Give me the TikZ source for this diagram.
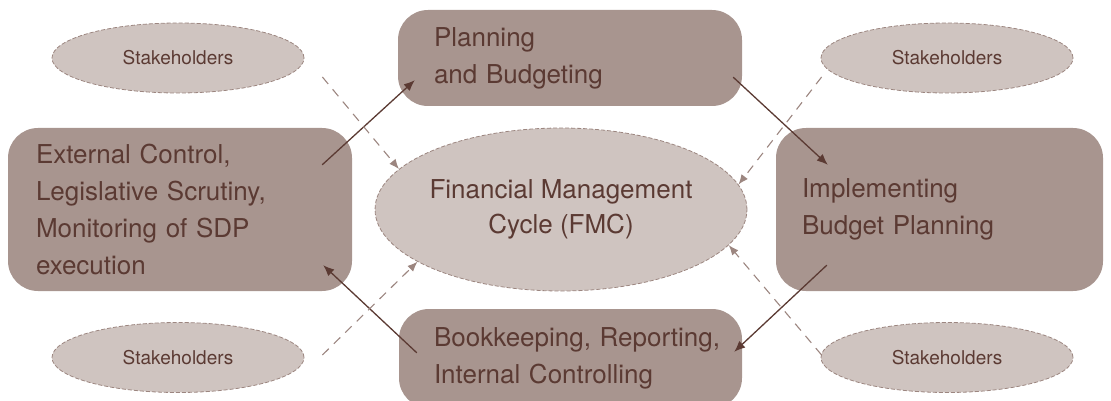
\documentclass[tikz,border=0pt]{standalone}
\usepackage{fontspec}
\setmainfont{TeX Gyre Heros}
\usetikzlibrary{shapes, arrows.meta, positioning, calc}
\definecolor{boxfill}{HTML}{A8958F}
\definecolor{ovalfill}{HTML}{CFC4C0}
\definecolor{inkbrown}{HTML}{5B3A33}
\definecolor{dashgrey}{HTML}{9C8680}
\tikzstyle{stage} = [rectangle, rounded corners=30pt, fill=boxfill, text=inkbrown, align=left, inner ysep=0pt, font=\fontsize{26}{37}\selectfont]
\tikzstyle{stake} = [ellipse, fill=ovalfill, draw=dashgrey, dash pattern=on 4pt off 2pt, line width=0.8pt, text=inkbrown, inner sep=0pt, minimum width=252pt, minimum height=70pt, font=\fontsize{19}{22}\selectfont]
\tikzstyle{cycle} = [ellipse, fill=ovalfill, draw=dashgrey, dash pattern=on 4pt off 2pt, line width=0.8pt, text=inkbrown, inner sep=0pt, minimum width=316pt, minimum height=163pt, align=center, font=\fontsize{26}{35}\selectfont]
\tikzstyle{flow} = [draw=inkbrown, line width=1.3pt, -{Latex[length=11pt,width=9pt]}]
\tikzstyle{link} = [draw=dashgrey, line width=1.1pt, dash pattern=on 9pt off 7pt, -{Latex[length=10pt,width=8pt]}]

\begin{document}
\begin{tikzpicture}[x=1pt, y=-1pt]
	\useasboundingbox (0,0) rectangle (1111,401);
	% stages of the cycle
	\node [stage, inner xsep=28pt, text width=288pt, minimum height=163pt] (lbox) at (180,209.5) {External Control,\\Legislative Scrutiny,\\Monitoring of SDP\\execution};
	\node [stage, inner xsep=36pt, text width=272pt, minimum height=96pt] (tbox) at (570,58) {Planning\\and Budgeting};
	\node [stage, inner xsep=26pt, text width=275pt, minimum height=163pt] (rbox) at (939.5,209.5) {Implementing\\Budget Planning};
	\node [stage, inner xsep=35pt, text width=273pt, minimum height=99pt] (bbox) at (570.5,358.5) {\mbox{Bookkeeping, Reporting,}\\Internal Controlling};
	% centre and stakeholders
	\node [cycle] (fmc) at (561,209.5) {Financial Management\\Cycle (FMC)};
	\node [stake] (sh1) at (178,58) {Stakeholders};
	\node [stake] (sh2) at (947,58) {Stakeholders};
	\node [stake] (sh3) at (178,357.5) {Stakeholders};
	\node [stake] (sh4) at (947,357.5) {Stakeholders};
	% cycle arrows
	\draw [flow] ($(lbox.north east)+(-30,37)$) -- ($(tbox.south west)+(17,-26)$);
	\draw [flow] ($(tbox.south east)+(-9,-29)$) -- ($(rbox.north west)+(52,37)$);
	\draw [flow] ($(rbox.south west)+(51,-26)$) -- ($(bbox.north east)+(-8,43)$);
	\draw [flow] ($(bbox.north west)+(18,44)$) -- ($(lbox.south east)+(-29,-26)$);
	% stakeholder links
	\draw [link] ($(sh1.east)+(18,19)$) -- (fmc.166);
	\draw [link] ($(sh2.west)+(1,19)$) -- (fmc.8);
	\draw [link] ($(sh3.east)+(18,-2.5)$) -- (fmc.200);
	\draw [link] ($(sh4.west)+(1,-2.5)$) -- (fmc.-12);
\end{tikzpicture}
\end{document}
